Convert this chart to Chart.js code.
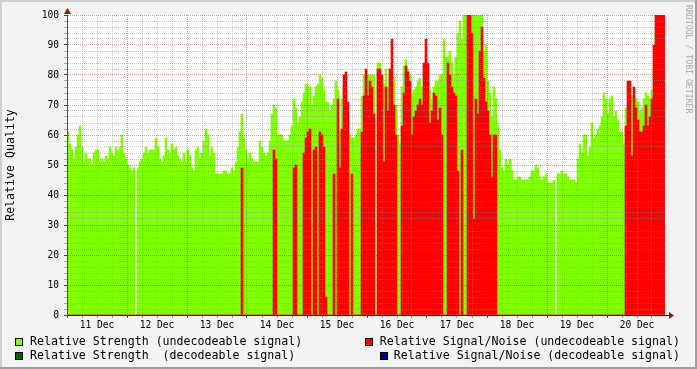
<!DOCTYPE html>
<html>
<head>
<meta charset="utf-8">
<script src="https://cdn.jsdelivr.net/npm/chart.js@4.4.0/dist/chart.umd.min.js"></script>
<style>
  html, body { margin: 0; padding: 0; background: #f3f3f3; }
  #wrap { position: relative; width: 697px; height: 369px; font-family: 'DejaVu Sans Mono', monospace; }
  #wrap canvas { position: absolute; left: 0; top: 0; }
  .leg { position: absolute; font-size: 11.6px; line-height: 14px; white-space: pre; color: #000; }
  .box { position: absolute; width: 6px; height: 6px; border: 1px solid #000; }
  #mark { position: absolute; left: 684px; top: 5px; writing-mode: vertical-rl; font-size: 8.2px; color: #a8a8a8; white-space: pre; }
</style>
</head>
<body>
<div id="wrap">
  <canvas id="c" width="697" height="369"></canvas>
  <div class="box" style="left:15px;top:338px;background:#80ff00"></div>
  <div class="leg" style="left:30px;top:334px">Relative Strength (undecodeable signal)</div>
  <div class="box" style="left:15px;top:352px;background:#006400"></div>
  <div class="leg" style="left:30px;top:348px">Relative Strength  (decodeable signal)</div>
  <div class="box" style="left:365px;top:338px;background:#ff0000"></div>
  <div class="leg" style="right:17px;top:334px">Relative Signal/Noise (undecodeable signal)</div>
  <div class="box" style="left:380px;top:352px;background:#000090"></div>
  <div class="leg" style="right:17px;top:348px">Relative Signal/Noise (decodeable signal)</div>
  <div id="mark">RRDTOOL / TOBI OETIKER</div>
</div>
<script>
// one sample per 48 minutes, 11 Dec 00:00 -> 20 Dec ~23:00
const HOURS_PER_BIN = 0.8;
const dayLabels = ['11 Dec', '12 Dec', '13 Dec', '14 Dec', '15 Dec', '16 Dec', '17 Dec', '18 Dec', '19 Dec', '20 Dec'];

// Relative Strength (undecodeable signal)
const strength = [
  61, 57, 55, 52, 56, 60, 63, 56, 51, 54,
  52, 52, 50, 54, 55, 55, 51, 52, 51, 53,
  52, 56, 54, 53, 56, 55, 56, 60, 54, 52,
  50, 49, 48, 49, 0, 49, 51, 52, 54, 56,
  54, 55, 55, 55, 59, 56, 52, 51, 53, 59,
  55, 54, 57, 55, 56, 53, 52, 51, 54, 51,
  55, 53, 49, 48, 55, 56, 52, 54, 58, 62,
  60, 53, 56, 54, 47, 47, 47, 47, 48, 48,
  47, 47, 49, 48, 51, 56, 61, 67, 59, 55,
  52, 54, 52, 51, 51, 51, 58, 56, 54, 53,
  54, 58, 67, 70, 69, 60, 60, 60, 58, 58,
  58, 60, 63, 72, 69, 64, 66, 71, 74, 77,
  76, 76, 70, 73, 76, 77, 80, 79, 75, 71,
  71, 68, 70, 72, 78, 75, 61, 72, 75, 75,
  60, 60, 59, 59, 60, 62, 62, 73, 80, 80,
  80, 80, 80, 80, 0, 84, 84, 74, 77, 82,
  76, 80, 80, 79, 70, 60, 57, 76, 83, 85,
  82, 80, 74, 75, 76, 78, 79, 76, 75, 78,
  78, 75, 72, 76, 78, 78, 80, 80, 92, 86,
  86, 88, 84, 80, 86, 94, 98, 92, 100, 100,
  100, 100, 100, 100, 100, 100, 100, 100, 88, 90,
  78, 74, 66, 76, 72, 63, 55, 49, 48, 52,
  50, 52, 48, 45, 45, 46, 46, 45, 45, 45,
  45, 46, 48, 48, 50, 49, 46, 45, 46, 47,
  44, 44, 44, 45, 0, 47, 47, 48, 47, 47,
  46, 45, 45, 45, 44, 52, 57, 54, 60, 60,
  53, 56, 64, 59, 60, 62, 63, 66, 74, 72,
  67, 72, 73, 66, 68, 65, 61, 61, 57, 69,
  69, 70, 73, 73, 72, 71, 68, 69, 72, 74,
  73, 72, 75, 82, 94, 95, 95, 95, 95
];

// Relative Signal/Noise (undecodeable signal)
const snr = [
  0, 0, 0, 0, 0, 0, 0, 0, 0, 0,
  0, 0, 0, 0, 0, 0, 0, 0, 0, 0,
  0, 0, 0, 0, 0, 0, 0, 0, 0, 0,
  0, 0, 0, 0, 0, 0, 0, 0, 0, 0,
  0, 0, 0, 0, 0, 0, 0, 0, 0, 0,
  0, 0, 0, 0, 0, 0, 0, 0, 0, 0,
  0, 0, 0, 0, 0, 0, 0, 0, 0, 0,
  0, 0, 0, 0, 0, 0, 0, 0, 0, 0,
  0, 0, 0, 0, 0, 0, 0, 49, 0, 0,
  0, 0, 0, 0, 0, 0, 0, 0, 0, 0,
  0, 0, 0, 55, 52, 0, 0, 0, 0, 0,
  0, 0, 0, 49, 50, 0, 0, 0, 54, 59,
  61, 62, 0, 55, 56, 0, 61, 60, 56, 6,
  0, 0, 0, 47, 0, 72, 49, 62, 80, 81,
  71, 0, 47, 0, 0, 0, 0, 61, 73, 82,
  73, 78, 76, 67, 0, 82, 82, 80, 51, 76,
  68, 82, 92, 70, 60, 0, 0, 63, 74, 83,
  81, 78, 60, 66, 68, 70, 72, 70, 84, 92,
  84, 64, 68, 74, 73, 65, 69, 60, 0, 0,
  84, 80, 76, 74, 73, 48, 0, 55, 0, 0,
  100, 100, 94, 32, 72, 67, 88, 96, 79, 71,
  68, 60, 46, 60, 60, 0, 0, 0, 0, 0,
  0, 0, 0, 0, 0, 0, 0, 0, 0, 0,
  0, 0, 0, 0, 0, 0, 0, 0, 0, 0,
  0, 0, 0, 0, 0, 0, 0, 0, 0, 0,
  0, 0, 0, 0, 0, 0, 0, 0, 0, 0,
  0, 0, 0, 0, 0, 0, 0, 0, 0, 0,
  0, 0, 0, 0, 0, 0, 0, 0, 0, 63,
  78, 78, 53, 76, 69, 65, 61, 61, 63, 70,
  63, 66, 72, 90, 100, 100, 100, 100, 100
];

// decodeable series: nothing visible in this period
const strengthDecodeable = [];
const snrDecodeable = [];

const bins = strength.map((_, i) => i);

const GRID_MINOR = 'rgba(140,140,140,0.45)';
const GRID_MAJOR = 'rgba(150,40,40,0.45)';
const FONT = 'DejaVu Sans Mono';

const backdrop = {
  id: 'backdrop',
  beforeDraw(chart) {
    const { ctx, chartArea: a, width: w, height: h } = chart;
    ctx.save();
    ctx.fillStyle = '#f3f3f3';
    ctx.fillRect(0, 0, w, h);
    ctx.fillStyle = '#cfcfcf';
    ctx.fillRect(0, 0, w, 2);
    ctx.fillRect(0, 0, 2, h);
    ctx.fillStyle = '#9e9e9e';
    ctx.fillRect(0, h - 2, w, 2);
    ctx.fillRect(w - 2, 0, 2, h);
    ctx.fillStyle = '#fff';
    ctx.fillRect(a.left, a.top, a.right - a.left, a.bottom - a.top);
    ctx.restore();
  },
  afterDraw(chart) {
    const { ctx, chartArea: a } = chart;
    ctx.save();
    ctx.fillStyle = '#8b1a1a';
    ctx.strokeStyle = '#22224a';
    ctx.lineWidth = 1;
    ctx.beginPath();
    ctx.moveTo(a.right, a.bottom + 0.5);
    ctx.lineTo(a.right + 5, a.bottom + 0.5);
    ctx.stroke();
    ctx.beginPath();
    ctx.moveTo(a.right + 4, a.bottom - 3);
    ctx.lineTo(a.right + 9, a.bottom + 0.5);
    ctx.lineTo(a.right + 4, a.bottom + 4);
    ctx.closePath();
    ctx.fill();
    ctx.beginPath();
    ctx.moveTo(a.left - 3, a.top - 1);
    ctx.lineTo(a.left + 0.5, a.top - 7);
    ctx.lineTo(a.left + 4, a.top - 1);
    ctx.closePath();
    ctx.fill();
    ctx.restore();
  }
};

new Chart(document.getElementById('c'), {
  type: 'bar',
  data: {
    labels: bins,
    datasets: [
      { label: 'Relative Signal/Noise (decodeable signal)', data: snrDecodeable, backgroundColor: '#000090', order: 0 },
      { label: 'Relative Strength  (decodeable signal)', data: strengthDecodeable, backgroundColor: '#006400', order: 1 },
      { label: 'Relative Signal/Noise (undecodeable signal)', data: snr, backgroundColor: '#ff0000', order: 2 },
      { label: 'Relative Strength (undecodeable signal)', data: strength, backgroundColor: '#80ff00', order: 3 }
    ].map(d => Object.assign(d, {
      xAxisID: 'x', yAxisID: 'y', grouped: false,
      barPercentage: 1, categoryPercentage: 1, borderWidth: 0
    }))
  },
  options: {
    responsive: false,
    animation: false,
    devicePixelRatio: 1,
    layout: { padding: { left: 0, right: 32, top: 15, bottom: 37 } },
    plugins: { legend: { display: false }, tooltip: { enabled: false } },
    scales: {
      x: { type: 'category', display: false, offset: true },
      xt: {
        type: 'linear', position: 'bottom', offset: false,
        min: 0, max: strength.length * HOURS_PER_BIN,
        afterBuildTicks(s) {
          s.ticks = [];
          for (let hr = 0; hr <= s.max; hr += 6) s.ticks.push({ value: hr });
        },
        afterFit(s) { s.height = 17; },
        ticks: {
          autoSkip: false, maxRotation: 0, minRotation: 0, padding: 2,
          color: '#000', font: { family: FONT, size: 9.6 },
          callback: v => (v % 24 === 12 ? dayLabels[(v - 12) / 24] : '')
        },
        grid: {
          z: 1, lineWidth: 1, tickLength: 3, offset: false,
          color: c => (c.tick && c.tick.value % 24 === 0 ? GRID_MAJOR : GRID_MINOR),
          tickColor: c => (c.tick && c.tick.value % 24 === 0 ? '#a03030' : '#999')
        },
        border: { display: true, color: '#22224a', width: 1, dash: [1, 1], z: 2 }
      },
      y: {
        type: 'linear', position: 'left', min: 0, max: 100,
        afterFit(s) { s.width = 67; },
        ticks: {
          stepSize: 2, autoSkip: false, padding: 5,
          color: '#000', font: { family: FONT, size: 9.6 },
          callback: v => (v % 10 === 0 ? v : '')
        },
        grid: {
          z: 1, lineWidth: 1, tickLength: 3,
          color: c => (c.tick && c.tick.value % 10 === 0 ? GRID_MAJOR : GRID_MINOR),
          tickColor: c => (c.tick && c.tick.value % 10 === 0 ? '#444' : '#aaa')
        },
        border: { display: true, color: '#6a4040', width: 1, dash: [1, 1], z: 2 },
        title: {
          display: true, text: 'Relative Quality', color: '#000',
          font: { family: FONT, size: 11.6 }, padding: { top: 4, bottom: 4 }
        }
      }
    }
  },
  plugins: [backdrop]
});
</script>
</body>
</html>
